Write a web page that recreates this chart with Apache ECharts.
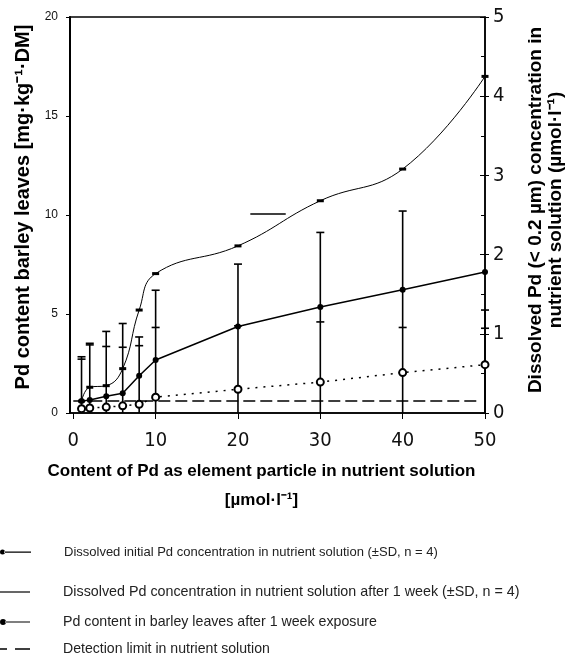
<!DOCTYPE html>
<html><head><meta charset="utf-8">
<script src="https://cdn.jsdelivr.net/npm/echarts@6/dist/echarts.min.js"></script>
<style>html,body{margin:0;padding:0;background:#fff}#c{width:568px;height:660px}</style>
</head><body><div id="c"></div>
<script>
// ---- data ----
const xValues = [1, 2, 4, 6, 8, 10, 20, 30, 40, 50];
// right axis, µmol/l
const initialDissolved = [0.15, 0.325, 0.345, 0.56, 1.3, 1.76, 2.11, 2.68, 3.08, 4.25];
const afterWeekDissolved = [0.055, 0.063, 0.075, 0.09, 0.11, 0.2, 0.3, 0.39, 0.51, 0.61];
// left axis, mg/kg DM
const leafContent = [0.6, 0.66, 0.85, 1.0, 1.88, 2.68, 4.37, 5.35, 6.23, 7.12];
// error bars (right axis units)
const errLow  = [0, 0, 0, 0, 0, 0, 0, 0, 0, 0];
const errHigh = [0.71, 0.88, 1.03, 1.13, 0.96, 1.55, 1.88, 2.28, 2.55, 1.3];
const errMid  = [0.68, 0.86, 0.84, 0.83, 0.85, 1.08, 1.1, 1.15, 1.08, 1.07];
// detection limit (right axis)
const detectionX = [0, 49.5];
const detectionLimit = [0.15, 0.15];
// stray dash in the figure (left axis)
const strayX = [21.5, 25.8];
const strayY = [10.05, 10.05];
const xTickValues = [0, 10, 20, 30, 40, 50];

const nInitial = 'Dissolved initial Pd concentration in nutrient solution (±SD, n = 4)';
const nAfter = 'Dissolved Pd concentration in nutrient solution after 1 week (±SD, n = 4)';
const nLeaf = 'Pd content in barley leaves after 1 week exposure';
const nDet = 'Detection limit in nutrient solution';

const zip = (a, b) => a.map((v, i) => [v, b[i]]);
const errData = xValues.map((x, i) => [x, errLow[i], errHigh[i], errMid[i]]);

const narrow = '"DejaVu Sans Condensed", "Liberation Sans", sans-serif';
const sans = '"Liberation Sans", Arial, sans-serif';

function legendItem(name, top, icon, w, h, fs) {
  return {
    left: 0, top: top, padding: 0, orient: 'vertical',
    itemWidth: w, itemHeight: h,
    data: [{ name: name, icon: icon }],
    itemStyle: { color: '#000', borderWidth: 0 },
    textStyle: { fontFamily: sans, fontSize: fs, color: '#222', lineHeight: 14, padding: [0, 0, 0, 28] },
    selectedMode: false
  };
}

const chart = echarts.init(document.getElementById('c'), null, { renderer: 'canvas' });
chart.setOption({
  backgroundColor: '#fff',
  animation: false,
  grid: {
    left: 70, right: 83, top: 17, bottom: 247, containLabel: false, outerBoundsMode: 'none',
    show: true, borderColor: '#000', borderWidth: 1.5, backgroundColor: 'transparent'
  },
  xAxis: {
    type: 'value', min: -0.4, max: 50,
    axisLine: { show: true, onZero: false, lineStyle: { color: '#000', width: 1.5 } },
    axisTick: { show: true, length: 6, lineStyle: { color: '#000' }, customValues: xTickValues },
    axisLabel: { customValues: xTickValues, color: '#111', fontFamily: narrow, fontSize: 20, margin: 18 },
    splitLine: { show: false },
    name: 'Content of Pd as element particle in nutrient solution\n[µmol·l⁻¹]',
    nameLocation: 'middle', nameGap: 44,
    nameTextStyle: { fontFamily: sans, fontWeight: 'bold', fontSize: 17, color: '#000', lineHeight: 29, padding: [0, 32, 0, 0] }
  },
  yAxis: [
    {
      type: 'value', min: 0, max: 20, interval: 5, position: 'left',
      axisLine: { show: true, onZero: false, lineStyle: { color: '#000', width: 2 } },
      axisTick: { show: true, length: 4, lineStyle: { color: '#000' } },
      axisLabel: { color: '#111', fontFamily: sans, fontSize: 12, margin: 12 },
      splitLine: { show: false },
      name: 'Pd content barley leaves [mg·kg⁻¹·DM]',
      nameLocation: 'middle', nameRotate: 90, nameGap: 35,
      nameTextStyle: { fontFamily: sans, fontWeight: 'bold', fontSize: 20, color: '#000', padding: [0, 0, 0, 16] }
    },
    {
      type: 'value', min: 0, max: 5, interval: 1, position: 'right',
      axisLine: { show: true, onZero: false, lineStyle: { color: '#000', width: 1.5 } },
      axisTick: { show: true, length: 4, lineStyle: { color: '#000' } },
      axisLabel: { color: '#111', fontFamily: narrow, fontSize: 20, margin: 8 },
      splitLine: { show: false },
      name: 'Dissolved Pd (< 0.2 µm) concentration in\nnutrient solution (µmol·l⁻¹)',
      nameLocation: 'middle', nameRotate: 90, nameGap: 41,
      nameTextStyle: { fontFamily: sans, fontWeight: 'bold', fontSize: 19, color: '#000', lineHeight: 20, padding: [0, 0, 0, 10] }
    },
    {
      type: 'value', min: 0, max: 5, interval: 1, position: 'right',
      axisLine: { show: false, onZero: false },
      axisTick: { show: true, inside: true, length: 5, lineStyle: { color: '#000' } },
      minorTick: { show: true, splitNumber: 2, length: 4, lineStyle: { color: '#000' } },
      axisLabel: { show: false },
      splitLine: { show: false }
    }
  ],
  legend: [
    legendItem(nInitial, 545, 'path://M0,2.5a2.5,2.5 0 1,0 5,0a2.5,2.5 0 1,0 -5,0Z M4,2H31V3.2H4Z', 31, 5, 13),
    legendItem(nAfter, 585, 'rect', 30, 1.2, 14.3),
    legendItem(nLeaf, 615, 'path://M0,3a3,3 0 1,0 6,0a3,3 0 1,0 -6,0Z M5,2.4H30V3.6H5Z', 30, 6, 14.2),
    legendItem(nDet, 642, 'path://M0,0H7V1.5H0Z M15,0H30V1.5H15Z', 30, 1.5, 14.1)
  ],
  series: [
    {
      name: 'errors', type: 'custom', yAxisIndex: 1, z: 3,
      data: errData,
      encode: { x: 0, y: [1, 2, 3] },
      renderItem: function (params, api) {
        const x = api.value(0);
        const lo = api.coord([x, api.value(1)]);
        const hi = api.coord([x, api.value(2)]);
        const st = { stroke: '#000', lineWidth: 1.6 };
        const ch = [
          { type: 'line', shape: { x1: lo[0], y1: lo[1], x2: hi[0], y2: hi[1] }, style: st },
          { type: 'line', shape: { x1: hi[0] - 4, y1: hi[1], x2: hi[0] + 4, y2: hi[1] }, style: st }
        ];
        const m = api.value(3);
        if (m != null && !isNaN(m)) {
          const mc = api.coord([x, m]);
          ch.push({ type: 'line', shape: { x1: mc[0] - 4, y1: mc[1], x2: mc[0] + 4, y2: mc[1] }, style: st });
        }
        return { type: 'group', children: ch };
      }
    },
    {
      name: nDet, type: 'line', yAxisIndex: 1, data: zip(detectionX, detectionLimit),
      symbol: 'none', lineStyle: { color: '#000', width: 1.5, type: [12, 5] }, itemStyle: { color: '#000' }, z: 2
    },
    {
      name: nInitial, type: 'line', yAxisIndex: 1, data: zip(xValues, initialDissolved),
      smooth: 0.45, symbol: 'rect', symbolSize: [7, 3],
      lineStyle: { color: '#000', width: 1 }, itemStyle: { color: '#000' }, z: 4
    },
    {
      name: nLeaf, type: 'line', yAxisIndex: 0, data: zip(xValues, leafContent),
      symbol: 'circle', symbolSize: 6,
      lineStyle: { color: '#000', width: 1.5 }, itemStyle: { color: '#000' }, z: 4
    },
    {
      name: nAfter, type: 'line', yAxisIndex: 1, data: zip(xValues, afterWeekDissolved),
      symbol: 'emptyCircle', symbolSize: 7,
      lineStyle: { color: '#000', width: 1.5, type: [2, 6] },
      itemStyle: { color: '#000', borderColor: '#000', borderWidth: 1.5 }, z: 5
    },
    {
      name: 'stray', type: 'line', yAxisIndex: 0, data: zip(strayX, strayY),
      symbol: 'none', lineStyle: { color: '#000', width: 1.5 }, z: 4
    }
  ]
});
</script></body></html>
